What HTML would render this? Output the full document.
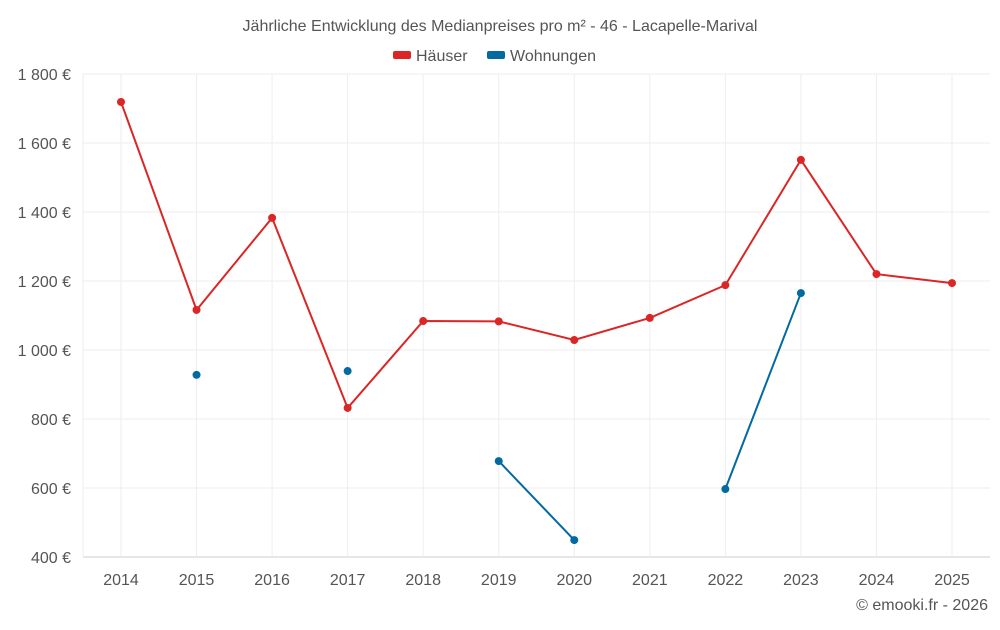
<!DOCTYPE html>
<html><head><meta charset="utf-8"><style>
body{margin:0;background:#fff;font-family:"Liberation Sans",sans-serif;}
svg text{font-family:"Liberation Sans",sans-serif;}
</style></head><body>
<svg id="chart" width="1000" height="625">
<text x="500" y="31" text-anchor="middle" font-size="16" fill="#555">Jährliche Entwicklung des Medianpreises pro m² - 46 - Lacapelle-Marival</text>
<g>
<g><rect x="393" y="51" width="18" height="8" rx="2" fill="#dc2626"/><text x="416" y="61" font-size="16" fill="#555">Häuser</text></g>
<g><rect x="487" y="51" width="18" height="8" rx="2" fill="#0369a1"/><text x="510" y="61" font-size="16" fill="#555">Wohnungen</text></g>
</g>
<g id="grid"></g><g id="marks"></g>
<text x="988" y="610" text-anchor="end" font-size="16" fill="#555">© emooki.fr - 2026</text>
</svg>
<script>
const years=[2014,2015,2016,2017,2018,2019,2020,2021,2022,2023,2024,2025];
const houses=[1719,1116,1383,832,1084,1083,1029,1093,1188,1551,1220,1194];
const flats=[null,928,null,939,null,678,449,null,597,1165,null,null];
const yTicks=[400,600,800,1000,1200,1400,1600,1800];
const yLabels=["400 €","600 €","800 €","1 000 €","1 200 €","1 400 €","1 600 €","1 800 €"];
const L=83,R=990,T=74,B=557;
const x=i=>121+i*(952-121)/(years.length-1);
const y=v=>B-(v-400)/1400*(B-T);
const NS="http://www.w3.org/2000/svg";
function mk(tag,a,p){const e=document.createElementNS(NS,tag);for(const k in a)e.setAttribute(k,a[k]);p.appendChild(e);return e;}
const g=document.getElementById('grid'),m=document.getElementById('marks');
yTicks.forEach((t,i)=>{
 const l=mk('line',{x1:L,x2:R,y1:y(t),y2:y(t),stroke:i==0?'#ccc':'#eee'},g);
 
 
 const tx=mk('text',{x:71,y:y(t)+6,'text-anchor':'end','font-size':16,fill:'#555'},g);tx.textContent=yLabels[i];
 
 
});
years.forEach((yr,i)=>{
 const l=mk('line',{x1:x(i),x2:x(i),y1:T,y2:B,stroke:'#eee'},g);
 
 
 const tx=mk('text',{x:x(i),y:585,'text-anchor':'middle','font-size':16,fill:'#555'},g);tx.textContent=yr;
 
 
});
mk('line',{x1:L,x2:L,y1:T,y2:B,stroke:'#eee'},g);
function series(vals,color,name){
 let d='',pen=false;
 vals.forEach((v,i)=>{if(v==null){pen=false;return;}d+=(pen?'L':'M')+x(i)+' '+y(v)+' ';pen=true;});
 const p=mk('path',{d:d,fill:'none',stroke:color,'stroke-width':2},m);
 
 
 vals.forEach((v,i)=>{if(v==null)return;
  const c=mk('circle',{cx:x(i),cy:y(v),r:4,fill:color},m);
  
  
 });
}
series(houses,'#dc2626','haeuser');
series(flats,'#0369a1','wohnungen');
</script>
</body></html>
